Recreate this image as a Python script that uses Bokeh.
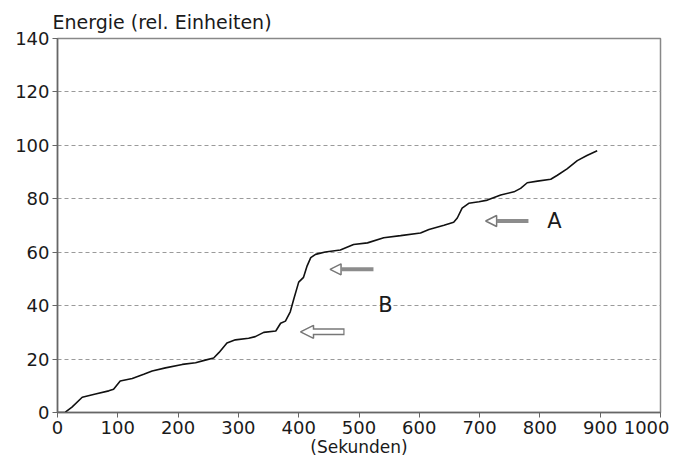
from bokeh.plotting import figure
from bokeh.models import Arrow, NormalHead, Label, FixedTicker
from bokeh.embed import file_html
from bokeh.resources import INLINE

# data
seconds = [0, 13, 24, 41, 63, 85, 93, 104, 124, 143, 157, 179, 207, 229, 245,
           259, 268, 281, 295, 317, 328, 342, 362, 370, 378, 386, 392, 400, 408,
           414, 420, 428, 444, 469, 491, 514, 541, 569, 602, 616, 641, 657, 663,
           671, 682, 699, 713, 735, 757, 768, 779, 796, 818, 829, 845, 862, 878,
           895]
energy = [0, 0.1, 2, 5.7, 6.9, 8.1, 8.7, 11.8, 12.7, 14.3, 15.5, 16.7, 18, 18.6,
          19.6, 20.4, 22.5, 26, 27.2, 27.8, 28.4, 30, 30.5, 33.4, 34.2, 37.7, 42.6,
          48.8, 50.6, 54.9, 58, 59.2, 60.1, 60.8, 62.9, 63.5, 65.4, 66.2, 67.2,
          68.5, 70.1, 71.2, 72.8, 76.5, 78.3, 78.9, 79.5, 81.4, 82.6, 83.9, 86,
          86.6, 87.3, 88.8, 91.2, 94.3, 96.2, 98]

x_ticks = [0, 100, 200, 300, 400, 500, 600, 700, 800, 900, 1000]
y_ticks = [0, 20, 40, 60, 80, 100, 120, 140]

# annotation arrows: (tail x, tip x, y)
arrow_a = (781, 710, 71.7)
arrow_b_upper = (524, 452, 53.6)
arrow_b_lower = (476, 403, 30.2)
label_a = ("A", 824, 71.7)
label_b = ("B", 544, 40.3)

FONT = "DejaVu Sans"
TXT = "#1a1a1a"

p = figure(width=669, height=459, x_range=(0, 1000), y_range=(0, 140),
           output_backend="svg", toolbar_location=None,
           min_border_left=57, min_border_right=9, min_border_top=38,
           min_border_bottom=44,
           title="Energie (rel. Einheiten)")

p.title.text_font = FONT
p.title.text_font_size = "19px"
p.title.text_font_style = "normal"
p.title.text_color = TXT
p.title.align = "left"
p.title.offset = -5
p.title.standoff = 11

p.outline_line_color = "#888888"
p.outline_line_width = 1.5

p.xgrid.visible = False
p.ygrid.grid_line_color = "#9a9a9a"
p.ygrid.grid_line_dash = "4 3"
p.ygrid.grid_line_width = 1

p.xaxis.ticker = FixedTicker(ticks=x_ticks)
p.yaxis.ticker = FixedTicker(ticks=y_ticks)
for ax in (p.xaxis[0], p.yaxis[0]):
    ax.axis_line_color = "#666666"
    ax.axis_line_width = 1.5
    ax.major_tick_line_color = "#666666"
    ax.major_tick_out = 5
    ax.major_tick_in = 0
    ax.minor_tick_line_color = None
    ax.major_label_text_font = FONT
    ax.major_label_text_font_size = "18px"
    ax.major_label_text_color = TXT

p.xaxis.major_label_standoff = 3
p.yaxis.major_label_standoff = 3
p.xaxis.axis_label = "(Sekunden)"
p.xaxis.axis_label_text_font = FONT
p.xaxis.axis_label_text_font_size = "17px"
p.xaxis.axis_label_text_font_style = "normal"
p.xaxis.axis_label_text_color = TXT
p.xaxis.axis_label_standoff = 0

p.line(seconds, energy, line_color="#111111", line_width=1.6)

# arrows with gray shafts and hollow heads
for tail, tip, yy in (arrow_a, arrow_b_upper):
    p.add_layout(Arrow(x_start=tail, y_start=yy, x_end=tip, y_end=yy,
                       line_color="#8c8c8c", line_width=4,
                       end=NormalHead(size=11, fill_color="white",
                                      line_color="#777777", line_width=1.5)))

# outlined block arrow
tail, tip, yy = arrow_b_lower
p.add_layout(Arrow(x_start=tail, y_start=yy, x_end=tip, y_end=yy,
                   line_color="#777777", line_width=7,
                   end=NormalHead(size=13, fill_color="white",
                                  line_color="#777777", line_width=1.5)))
p.add_layout(Arrow(x_start=tail - 2, y_start=yy, x_end=tip + 12, y_end=yy,
                   line_color="white", line_width=4, end=None))

for txt, xx, yy in (label_a, label_b):
    p.add_layout(Label(x=xx, y=yy, text=txt, text_font=FONT,
                       text_font_size="21px", text_color=TXT,
                       text_align="center", text_baseline="middle"))

open("out.html", "w").write(file_html(p, INLINE))
